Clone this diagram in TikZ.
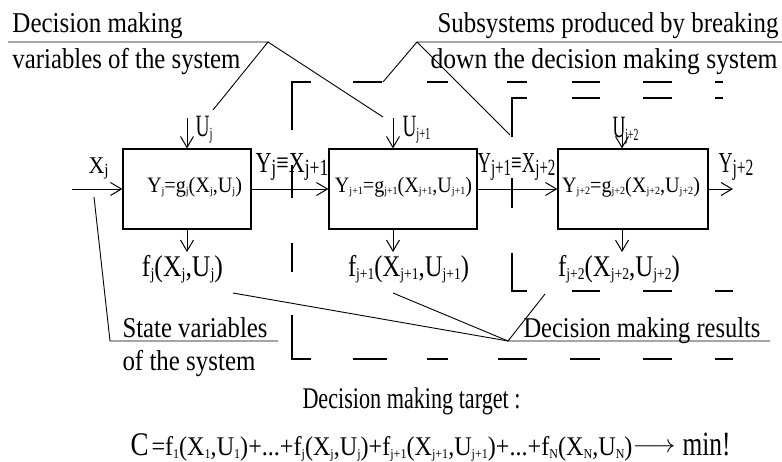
\documentclass[tikz,border=0pt]{standalone}
\usepackage{fontspec}
\setmainfont{Liberation Serif}
\usepackage{graphicx}
\usetikzlibrary{arrows.meta}
\newcommand\tx[3]{\resizebox{#2pt}{\height}{\fontsize{#1pt}{#1pt}\selectfont #3}}
\newcommand\sbx[2]{\raisebox{-0.12em}{\scalebox{#1}{#2}}}
\begin{document}
\begin{tikzpicture}[x=1pt,y=1pt,line width=1pt,
  box/.style={draw,line width=1.2pt,inner sep=0pt,minimum height=80pt},
  arr/.style={-{Straight Barb[length=11pt,width=13pt]}},
  lbl/.style={inner sep=0pt,anchor=base west},
  lblc/.style={inner sep=0pt,anchor=base},
  dsh/.style={line width=1.05pt},
  lead/.style={line width=0.9pt}]
\useasboundingbox (0,0) rectangle (782,-461);
% boxes
\node[box,minimum width=128pt] (b1) at (187,-189) {};
\node[box,minimum width=148pt] (b2) at (403,-189) {};
\node[box,minimum width=150pt] (b3) at (633,-189) {};
% box labels
\node[lblc] (g1) at (194.5,-192) {\tx{22}{95}{Y\sbx{0.5}{j}=g\sbx{0.5}{j}(X\sbx{0.5}{j},U\sbx{0.5}{j})}};
\node[lblc] (g2) at (403.5,-192) {\tx{22}{137}{Y\sbx{0.5}{j+1}=g\sbx{0.5}{j+1}(X\sbx{0.5}{j+1},U\sbx{0.5}{j+1})}};
\node[lblc] (g3) at (631,-192) {\tx{22}{138}{Y\sbx{0.5}{j+2}=g\sbx{0.5}{j+2}(X\sbx{0.5}{j+2},U\sbx{0.5}{j+2})}};
% flow arrows
\coordinate (xin) at (72,-189);
\coordinate (yout) at (733,-189);
\draw[arr] (xin) -- (b1.west);
\draw[arr] (b1.east) -- (b2.west);
\draw[arr] (b2.east) -- (b3.west);
\draw[arr] (b3.east) -- (yout);
\coordinate (u1) at (187,-118);
\coordinate (u2) at (393,-118);
\coordinate (u3) at (622,-117);
\draw[arr] (u1) -- (u1 |- b1.north);
\draw[arr] (u2) -- (u2 |- b2.north);
\draw[arr] (u3) -- (u3 |- b3.north);
\coordinate (d1) at (187,-252);
\coordinate (d2) at (393,-252);
\coordinate (d3) at (622,-252);
\draw[arr] (d1 |- b1.south) -- (d1);
\draw[arr] (d2 |- b2.south) -- (d2);
\draw[arr] (d3 |- b3.south) -- (d3);
% flow labels
\node[lbl] (lx) at (88,-173) {\tx{24}{20}{X\sbx{0.7}{j}}};
\node[lbl] (lu1) at (195,-136) {\tx{31}{17}{U\sbx{0.55}{j}}};
\node[lbl] (lu2) at (402,-136) {\tx{31}{28}{U\sbx{0.55}{j+1}}};
\node[lbl] (lu3) at (612,-137) {\tx{31}{26}{U\sbx{0.55}{j+2}}};
\node[lbl] (ly1) at (255,-172) {\tx{29}{73}{Y\sbx{0.8}{j}≡X\sbx{0.8}{j+1}}};
\node[lbl] (ly2) at (477,-172) {\tx{29}{78}{Y\sbx{0.8}{j+1}≡X\sbx{0.8}{j+2}}};
\node[lbl] (ly3) at (718,-172) {\tx{29}{35}{Y\sbx{0.8}{j+2}}};
\node[lblc] (f1) at (182.5,-276) {\tx{30}{81}{f\sbx{0.55}{j}(X\sbx{0.55}{j},U\sbx{0.55}{j})}};
\node[lblc] (f2) at (408.5,-276) {\tx{30}{121}{f\sbx{0.55}{j+1}(X\sbx{0.55}{j+1},U\sbx{0.55}{j+1})}};
\node[lblc] (f3) at (619,-276) {\tx{30}{122}{f\sbx{0.55}{j+2}(X\sbx{0.55}{j+2},U\sbx{0.55}{j+2})}};
% dashed subsystem frames
\draw[dsh] (311,-82) -- (292,-82) -- (292,-130)
  (353,-82) -- (382,-82) (427,-82) -- (448,-82) (507,-82) -- (527,-82)
  (572,-82) -- (600,-82) (643,-82) -- (672,-82) (715,-82) -- (723,-82)
  (292,-165) -- (292,-198) (292,-243) -- (292,-272)
  (292,-315) -- (292,-359) -- (311,-359)
  (353,-359) -- (387,-359) (427,-359) -- (448,-359) (498,-359) -- (527,-359)
  (570,-359) -- (600,-359) (643,-359) -- (672,-359) (715,-359) -- (733,-359);
\draw[dsh] (527,-98) -- (512,-98) -- (512,-137)
  (572,-98) -- (600,-98) (643,-98) -- (672,-98) (715,-98) -- (723,-98)
  (512,-178) -- (512,-208)
  (512,-253) -- (512,-291) -- (527,-291)
  (572,-291) -- (600,-291) (643,-291) -- (672,-291) (715,-291) -- (733,-291);
% callout texts
\node[lbl] (t1) at (12,-32) {\tx{28.7}{170}{Decision making}};
\node[lbl] (t2) at (12,-68) {\tx{28.7}{228}{variables of the system}};
\node[lbl] (t3) at (437,-32) {\tx{28.7}{341}{Subsystems produced by breaking}};
\node[lbl] (t4) at (430,-68) {\tx{28.7}{347}{down the decision making system}};
\node[lbl] (t5) at (122,-337) {\tx{28.7}{145}{State variables}};
\node[lbl] (t6) at (122,-370) {\tx{28.7}{133}{of the system}};
\node[lbl] (t7) at (523,-337) {\tx{28.7}{237}{Decision making results}};
\node[lbl] (t8) at (302,-408) {\tx{30}{218}{Decision making target :}};
% callout leaders
\coordinate (p1l) at (8,-42); \coordinate (p1) at (268,-42);
\coordinate (p1a) at (213,-110); \coordinate (p1b) at (383,-117);
\draw[lead] (p1l) -- (p1) -- (p1a); \draw[lead] (p1) -- (p1b);
\coordinate (p2) at (417,-42); \coordinate (p2r) at (782,-42);
\coordinate (p2a) at (383,-82); \coordinate (p2b) at (510,-135);
\draw[lead] (p2a) -- (p2) -- (p2r); \draw[lead] (p2) -- (p2b);
\coordinate (p3a) at (94,-197); \coordinate (p3) at (110,-341); \coordinate (p3r) at (278,-341);
\draw[lead] (p3a) -- (p3) -- (p3r);
\coordinate (p4) at (508,-341); \coordinate (p4r) at (770,-341);
\coordinate (p4a) at (545,-294); \coordinate (p4b) at (393,-293); \coordinate (p4c) at (233,-293);
\draw[lead] (p4a) -- (p4) -- (p4r); \draw[lead] (p4b) -- (p4); \draw[lead] (p4c) -- (p4);
% target formula
\node[lbl] (fm) at (130,-455) {\tx{33}{18}{C}\hspace{3pt}\tx{27}{481}{=f\sbx{0.5}{1}(X\sbx{0.5}{1},U\sbx{0.5}{1})+...+f\sbx{0.5}{j}(X\sbx{0.5}{j},U\sbx{0.5}{j})+f\sbx{0.5}{j+1}(X\sbx{0.5}{j+1},U\sbx{0.5}{j+1})+...+f\sbx{0.5}{N}(X\sbx{0.5}{N},U\sbx{0.5}{N})}\raisebox{3pt}{\resizebox{43pt}{\height}{\fontsize{28pt}{28pt}\selectfont$\longrightarrow$}}\hspace{7pt}\tx{34}{48}{min!}};
\end{tikzpicture}
\end{document}
